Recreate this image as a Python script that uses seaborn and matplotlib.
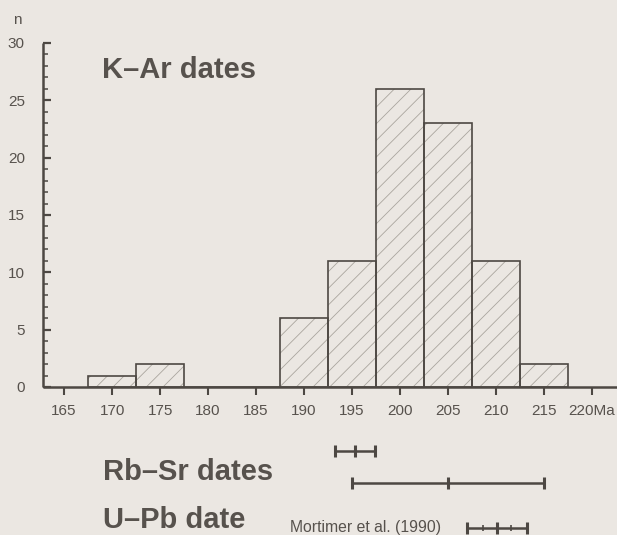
import matplotlib
matplotlib.use("Agg")
import matplotlib.pyplot as plt
import seaborn as sns
import numpy as np

# ---- data ----
bin_centers = [170, 175, 180, 185, 190, 195, 200, 205, 210, 215]
counts = [1, 2, 0, 0, 6, 11, 26, 23, 11, 2]
bin_edges = [167.5, 172.5, 177.5, 182.5, 187.5, 192.5, 197.5, 202.5, 207.5, 212.5, 217.5]
x_ticks = [165, 170, 175, 180, 185, 190, 195, 200, 205, 210, 215, 220]
x_tick_labels = ["165", "170", "175", "180", "185", "190", "195", "200", "205", "210", "215", "220Ma"]
y_ticks = [0, 5, 10, 15, 20, 25, 30]

rbsr_center = [195.3, 205.0]
rbsr_err = [2.1, 10.0]
upb_center = [210.1]
upb_err = [3.1]
upb_inner = [1.5]

# ---- style ----
W, H = 617, 535
DPI = 100
bg = "#ebe7e2"
ink = "#4d4843"
txt = "#57524d"
hatch_col = "#aaa59e"

sns.set_theme(style="white")
plt.rcParams["font.family"] = ["Liberation Sans", "DejaVu Sans"]
plt.rcParams["hatch.linewidth"] = 0.6

fig = plt.figure(figsize=(W / DPI, H / DPI), dpi=DPI)
fig.patch.set_facecolor(bg)

def px_box(l, t, r, b):
    return [l / W, 1 - b / H, (r - l) / W, (b - t) / H]

ax = fig.add_axes(px_box(43, 43, 617, 387))
ax.set_facecolor("none")

# hatch layer
sns.histplot(x=bin_centers, weights=counts, bins=bin_edges, ax=ax,
             element="bars", fill=True, color=bg, alpha=1, linewidth=0)
for p in ax.patches:
    p.set_facecolor(bg)
    p.set_edgecolor(hatch_col)
    p.set_linewidth(0)
    p.set_hatch("//")
# outline layer
sns.histplot(x=bin_centers, weights=counts, bins=bin_edges, ax=ax,
             element="bars", fill=False, color=ink, linewidth=1.2)

ax.set_xlim(162.8, 222.6)
ax.set_ylim(0, 30)
ax.set_xlabel("")
ax.set_ylabel("")
for s in ["top", "right"]:
    ax.spines[s].set_visible(False)
for s in ["left", "bottom"]:
    ax.spines[s].set_color(ink)
    ax.spines[s].set_linewidth(1.8)
    ax.spines[s].set_capstyle("butt")

ax.set_yticks(y_ticks)
ax.set_yticks(np.arange(0, 31, 1), minor=True)
ax.tick_params(axis="y", which="major", direction="in", length=5.5, width=1.6,
               color=ink, labelsize=11, labelcolor=txt, pad=13, left=True)
ax.tick_params(axis="y", which="minor", direction="in", length=3.8, width=1.1,
               color=ink, left=True)
ax.set_xticks(x_ticks)
ax.set_xticklabels(x_tick_labels)
ax.tick_params(axis="x", which="major", direction="out", length=6, width=1.5,
               color=ink, labelsize=11, labelcolor=txt, pad=6, bottom=True)
ax.tick_params(axis="x", which="minor", bottom=False)

fig.text(17 / W, 1 - 20 / H, "n", ha="center", va="center", fontsize=11, color=txt)
fig.text(102 / W, 1 - 78 / H, "K\u2013Ar dates", ha="left", va="baseline",
         fontsize=21, fontweight="bold", color=txt)

# ---- lower panel: error bars ----
ax2 = fig.add_axes(px_box(43, 435, 617, 535))
ax2.set_facecolor("none")
ax2.set_xlim(162.8, 222.6)
ax2.set_ylim(100, 0)
ax2.axis("off")

rb_rows = [16, 48]
ax2.errorbar(rbsr_center, rb_rows, xerr=rbsr_err, fmt="|", color=ink,
             markersize=9, mew=2.2, elinewidth=1.8, capsize=4.5, capthick=2.4)
up_rows = [93]
ax2.errorbar(upb_center, up_rows, xerr=upb_err, fmt="|", color=ink,
             markersize=9, mew=2.2, elinewidth=1.8, capsize=4.5, capthick=2.4)
inner_x = [c - e for c, e in zip(upb_center, upb_inner)] + [c + e for c, e in zip(upb_center, upb_inner)]
ax2.plot(inner_x, up_rows * 2, "|", color=ink, markersize=5, mew=1.2)

fig.text(103 / W, 1 - 480 / H, "Rb\u2013Sr dates", ha="left", va="baseline",
         fontsize=21, fontweight="bold", color=txt)
fig.text(103 / W, 1 - 528 / H, "U\u2013Pb date", ha="left", va="baseline",
         fontsize=21, fontweight="bold", color=txt)
fig.text(290 / W, 1 - 532 / H, "Mortimer et al. (1990)", ha="left", va="baseline",
         fontsize=11.3, color=txt)

fig.savefig("out.png", dpi=DPI, facecolor=bg)
